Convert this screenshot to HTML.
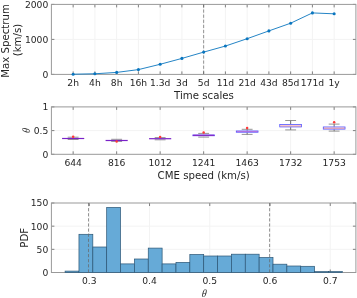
<!DOCTYPE html>
<html><head><meta charset="utf-8"><title>figure</title>
<style>html,body{margin:0;padding:0;background:#fff;overflow:hidden}svg{display:block}text{font-family:"DejaVu Sans","Liberation Sans",sans-serif;fill:#262626}.th{font-family:"Liberation Serif","DejaVu Serif",serif;font-style:italic}</style>
</head><body>
<svg width="357" height="298" viewBox="0 0 357 298">
<rect width="357" height="298" fill="#fff"/>
<line x1="73.15" y1="4.4" x2="73.15" y2="74.4" stroke="#f3f3f3" stroke-width="1" />
<line x1="94.9" y1="4.4" x2="94.9" y2="74.4" stroke="#f3f3f3" stroke-width="1" />
<line x1="116.65" y1="4.4" x2="116.65" y2="74.4" stroke="#f3f3f3" stroke-width="1" />
<line x1="138.4" y1="4.4" x2="138.4" y2="74.4" stroke="#f3f3f3" stroke-width="1" />
<line x1="160.15" y1="4.4" x2="160.15" y2="74.4" stroke="#f3f3f3" stroke-width="1" />
<line x1="181.9" y1="4.4" x2="181.9" y2="74.4" stroke="#f3f3f3" stroke-width="1" />
<line x1="203.65" y1="4.4" x2="203.65" y2="74.4" stroke="#f3f3f3" stroke-width="1" />
<line x1="225.4" y1="4.4" x2="225.4" y2="74.4" stroke="#f3f3f3" stroke-width="1" />
<line x1="247.15" y1="4.4" x2="247.15" y2="74.4" stroke="#f3f3f3" stroke-width="1" />
<line x1="268.9" y1="4.4" x2="268.9" y2="74.4" stroke="#f3f3f3" stroke-width="1" />
<line x1="290.65" y1="4.4" x2="290.65" y2="74.4" stroke="#f3f3f3" stroke-width="1" />
<line x1="312.4" y1="4.4" x2="312.4" y2="74.4" stroke="#f3f3f3" stroke-width="1" />
<line x1="334.15" y1="4.4" x2="334.15" y2="74.4" stroke="#f3f3f3" stroke-width="1" />
<line x1="51.4" y1="39.4" x2="355.9" y2="39.4" stroke="#f3f3f3" stroke-width="1" />
<line x1="73.15" y1="74.4" x2="73.15" y2="71.4" stroke="#808080" stroke-width="1" />
<line x1="73.15" y1="4.4" x2="73.15" y2="7.4" stroke="#808080" stroke-width="1" />
<line x1="94.9" y1="74.4" x2="94.9" y2="71.4" stroke="#808080" stroke-width="1" />
<line x1="94.9" y1="4.4" x2="94.9" y2="7.4" stroke="#808080" stroke-width="1" />
<line x1="116.65" y1="74.4" x2="116.65" y2="71.4" stroke="#808080" stroke-width="1" />
<line x1="116.65" y1="4.4" x2="116.65" y2="7.4" stroke="#808080" stroke-width="1" />
<line x1="138.4" y1="74.4" x2="138.4" y2="71.4" stroke="#808080" stroke-width="1" />
<line x1="138.4" y1="4.4" x2="138.4" y2="7.4" stroke="#808080" stroke-width="1" />
<line x1="160.15" y1="74.4" x2="160.15" y2="71.4" stroke="#808080" stroke-width="1" />
<line x1="160.15" y1="4.4" x2="160.15" y2="7.4" stroke="#808080" stroke-width="1" />
<line x1="181.9" y1="74.4" x2="181.9" y2="71.4" stroke="#808080" stroke-width="1" />
<line x1="181.9" y1="4.4" x2="181.9" y2="7.4" stroke="#808080" stroke-width="1" />
<line x1="203.65" y1="74.4" x2="203.65" y2="71.4" stroke="#808080" stroke-width="1" />
<line x1="203.65" y1="4.4" x2="203.65" y2="7.4" stroke="#808080" stroke-width="1" />
<line x1="225.4" y1="74.4" x2="225.4" y2="71.4" stroke="#808080" stroke-width="1" />
<line x1="225.4" y1="4.4" x2="225.4" y2="7.4" stroke="#808080" stroke-width="1" />
<line x1="247.15" y1="74.4" x2="247.15" y2="71.4" stroke="#808080" stroke-width="1" />
<line x1="247.15" y1="4.4" x2="247.15" y2="7.4" stroke="#808080" stroke-width="1" />
<line x1="268.9" y1="74.4" x2="268.9" y2="71.4" stroke="#808080" stroke-width="1" />
<line x1="268.9" y1="4.4" x2="268.9" y2="7.4" stroke="#808080" stroke-width="1" />
<line x1="290.65" y1="74.4" x2="290.65" y2="71.4" stroke="#808080" stroke-width="1" />
<line x1="290.65" y1="4.4" x2="290.65" y2="7.4" stroke="#808080" stroke-width="1" />
<line x1="312.4" y1="74.4" x2="312.4" y2="71.4" stroke="#808080" stroke-width="1" />
<line x1="312.4" y1="4.4" x2="312.4" y2="7.4" stroke="#808080" stroke-width="1" />
<line x1="334.15" y1="74.4" x2="334.15" y2="71.4" stroke="#808080" stroke-width="1" />
<line x1="334.15" y1="4.4" x2="334.15" y2="7.4" stroke="#808080" stroke-width="1" />
<line x1="51.4" y1="74.4" x2="54.4" y2="74.4" stroke="#808080" stroke-width="1" />
<line x1="355.9" y1="74.4" x2="352.9" y2="74.4" stroke="#808080" stroke-width="1" />
<line x1="51.4" y1="39.4" x2="54.4" y2="39.4" stroke="#808080" stroke-width="1" />
<line x1="355.9" y1="39.4" x2="352.9" y2="39.4" stroke="#808080" stroke-width="1" />
<line x1="51.4" y1="4.4" x2="54.4" y2="4.4" stroke="#808080" stroke-width="1" />
<line x1="355.9" y1="4.4" x2="352.9" y2="4.4" stroke="#808080" stroke-width="1" />
<rect x="51.4" y="4.4" width="304.5" height="70" fill="none" stroke="#999999" stroke-width="1"/>
<line x1="203.65" y1="4.4" x2="203.65" y2="74.4" stroke="#666" stroke-width="0.7" stroke-dasharray="3.2 1.9"/>
<polyline points="73.15,74.23 94.9,73.77 116.65,72.41 138.4,69.61 160.15,64.29 181.9,58.41 203.65,52.11 225.4,46.05 247.15,38.7 268.9,30.9 290.65,23.2 312.4,12.91 334.15,13.82" fill="none" stroke="#2585c6" stroke-width="1.0" stroke-linejoin="round"/>
<circle cx="73.15" cy="74.23" r="1.55" fill="#0a76bf"/>
<circle cx="94.9" cy="73.77" r="1.55" fill="#0a76bf"/>
<circle cx="116.65" cy="72.41" r="1.55" fill="#0a76bf"/>
<circle cx="138.4" cy="69.61" r="1.55" fill="#0a76bf"/>
<circle cx="160.15" cy="64.29" r="1.55" fill="#0a76bf"/>
<circle cx="181.9" cy="58.41" r="1.55" fill="#0a76bf"/>
<circle cx="203.65" cy="52.11" r="1.55" fill="#0a76bf"/>
<circle cx="225.4" cy="46.05" r="1.55" fill="#0a76bf"/>
<circle cx="247.15" cy="38.7" r="1.55" fill="#0a76bf"/>
<circle cx="268.9" cy="30.9" r="1.55" fill="#0a76bf"/>
<circle cx="290.65" cy="23.2" r="1.55" fill="#0a76bf"/>
<circle cx="312.4" cy="12.91" r="1.55" fill="#0a76bf"/>
<circle cx="334.15" cy="13.82" r="1.55" fill="#0a76bf"/>
<text x="73.15" y="86.35" font-size="9.2" text-anchor="middle" >2h</text>
<text x="94.9" y="86.35" font-size="9.2" text-anchor="middle" >4h</text>
<text x="116.65" y="86.35" font-size="9.2" text-anchor="middle" >8h</text>
<text x="138.4" y="86.35" font-size="9.2" text-anchor="middle" >16h</text>
<text x="160.15" y="86.35" font-size="9.2" text-anchor="middle" >1.3d</text>
<text x="181.9" y="86.35" font-size="9.2" text-anchor="middle" >3d</text>
<text x="203.65" y="86.35" font-size="9.2" text-anchor="middle" >5d</text>
<text x="225.4" y="86.35" font-size="9.2" text-anchor="middle" >11d</text>
<text x="247.15" y="86.35" font-size="9.2" text-anchor="middle" >21d</text>
<text x="268.9" y="86.35" font-size="9.2" text-anchor="middle" >43d</text>
<text x="290.65" y="86.35" font-size="9.2" text-anchor="middle" >85d</text>
<text x="312.4" y="86.35" font-size="9.2" text-anchor="middle" >171d</text>
<text x="334.15" y="86.35" font-size="9.2" text-anchor="middle" >1y</text>
<text x="48.3" y="77.75" font-size="9.2" text-anchor="end" >0</text>
<text x="48.3" y="42.75" font-size="9.2" text-anchor="end" >1000</text>
<text x="48.3" y="7.75" font-size="9.2" text-anchor="end" >2000</text>
<text x="203.95" y="99" font-size="10.2" text-anchor="middle" >Time scales</text>
<text transform="translate(8.8,41.0) rotate(-90)" font-size="10.2" text-anchor="middle">Max Spectrum</text>
<text transform="translate(20.6,40.0) rotate(-90)" font-size="10.2" text-anchor="middle">(km/s)</text>
<line x1="73.15" y1="106.9" x2="73.15" y2="154.3" stroke="#f3f3f3" stroke-width="1" />
<line x1="116.65" y1="106.9" x2="116.65" y2="154.3" stroke="#f3f3f3" stroke-width="1" />
<line x1="160.15" y1="106.9" x2="160.15" y2="154.3" stroke="#f3f3f3" stroke-width="1" />
<line x1="203.65" y1="106.9" x2="203.65" y2="154.3" stroke="#f3f3f3" stroke-width="1" />
<line x1="247.15" y1="106.9" x2="247.15" y2="154.3" stroke="#f3f3f3" stroke-width="1" />
<line x1="290.65" y1="106.9" x2="290.65" y2="154.3" stroke="#f3f3f3" stroke-width="1" />
<line x1="334.15" y1="106.9" x2="334.15" y2="154.3" stroke="#f3f3f3" stroke-width="1" />
<line x1="51.4" y1="130.6" x2="355.9" y2="130.6" stroke="#f3f3f3" stroke-width="1" />
<line x1="73.15" y1="154.3" x2="73.15" y2="151.3" stroke="#808080" stroke-width="1" />
<line x1="73.15" y1="106.9" x2="73.15" y2="109.9" stroke="#808080" stroke-width="1" />
<line x1="116.65" y1="154.3" x2="116.65" y2="151.3" stroke="#808080" stroke-width="1" />
<line x1="116.65" y1="106.9" x2="116.65" y2="109.9" stroke="#808080" stroke-width="1" />
<line x1="160.15" y1="154.3" x2="160.15" y2="151.3" stroke="#808080" stroke-width="1" />
<line x1="160.15" y1="106.9" x2="160.15" y2="109.9" stroke="#808080" stroke-width="1" />
<line x1="203.65" y1="154.3" x2="203.65" y2="151.3" stroke="#808080" stroke-width="1" />
<line x1="203.65" y1="106.9" x2="203.65" y2="109.9" stroke="#808080" stroke-width="1" />
<line x1="247.15" y1="154.3" x2="247.15" y2="151.3" stroke="#808080" stroke-width="1" />
<line x1="247.15" y1="106.9" x2="247.15" y2="109.9" stroke="#808080" stroke-width="1" />
<line x1="290.65" y1="154.3" x2="290.65" y2="151.3" stroke="#808080" stroke-width="1" />
<line x1="290.65" y1="106.9" x2="290.65" y2="109.9" stroke="#808080" stroke-width="1" />
<line x1="334.15" y1="154.3" x2="334.15" y2="151.3" stroke="#808080" stroke-width="1" />
<line x1="334.15" y1="106.9" x2="334.15" y2="109.9" stroke="#808080" stroke-width="1" />
<line x1="51.4" y1="154.3" x2="54.4" y2="154.3" stroke="#808080" stroke-width="1" />
<line x1="355.9" y1="154.3" x2="352.9" y2="154.3" stroke="#808080" stroke-width="1" />
<line x1="51.4" y1="130.6" x2="54.4" y2="130.6" stroke="#808080" stroke-width="1" />
<line x1="355.9" y1="130.6" x2="352.9" y2="130.6" stroke="#808080" stroke-width="1" />
<line x1="51.4" y1="106.9" x2="54.4" y2="106.9" stroke="#808080" stroke-width="1" />
<line x1="355.9" y1="106.9" x2="352.9" y2="106.9" stroke="#808080" stroke-width="1" />
<rect x="51.4" y="106.9" width="304.5" height="47.4" fill="none" stroke="#999999" stroke-width="1"/>
<line x1="67.71" y1="137.2" x2="78.59" y2="137.2" stroke="#7a7a7a" stroke-width="0.8" />
<line x1="67.71" y1="139.5" x2="78.59" y2="139.5" stroke="#7a7a7a" stroke-width="0.8" />
<line x1="62.08" y1="138.5" x2="84.23" y2="138.5" stroke="#7a22c8" stroke-width="1.1999999999999886" />
<circle cx="73.15" cy="136.7" r="1.25" fill="#ff3838"/>
<line x1="111.21" y1="139.3" x2="122.09" y2="139.3" stroke="#7a7a7a" stroke-width="0.8" />
<line x1="111.21" y1="141.4" x2="122.09" y2="141.4" stroke="#7a7a7a" stroke-width="0.8" />
<line x1="105.58" y1="140.5" x2="127.73" y2="140.5" stroke="#7a22c8" stroke-width="1.1999999999999886" />
<circle cx="116.65" cy="141.5" r="1.25" fill="#ff3838"/>
<line x1="154.71" y1="137.6" x2="165.59" y2="137.6" stroke="#7a7a7a" stroke-width="0.8" />
<line x1="154.71" y1="139.8" x2="165.59" y2="139.8" stroke="#7a7a7a" stroke-width="0.8" />
<line x1="149.08" y1="138.7" x2="171.22" y2="138.7" stroke="#7a22c8" stroke-width="1.200000000000017" />
<circle cx="160.15" cy="137" r="1.25" fill="#ff3838"/>
<line x1="198.21" y1="133.4" x2="209.09" y2="133.4" stroke="#7a7a7a" stroke-width="0.8" />
<line x1="198.21" y1="137.1" x2="209.09" y2="137.1" stroke="#7a7a7a" stroke-width="0.8" />
<line x1="192.47" y1="135.35" x2="214.83" y2="135.35" stroke="#5a3cf0" stroke-width="1.5999999999999943" />
<line x1="193.28" y1="135.35" x2="214.03" y2="135.35" stroke="#8a2cc4" stroke-width="1.0999999999999943" />
<circle cx="203.65" cy="132.6" r="1.25" fill="#ff3838"/>
<line x1="247.15" y1="129.3" x2="247.15" y2="130.6" stroke="#4a4a4a" stroke-width="0.8" />
<line x1="247.15" y1="132.6" x2="247.15" y2="134.4" stroke="#4a4a4a" stroke-width="0.8" />
<line x1="241.71" y1="129.3" x2="252.59" y2="129.3" stroke="#7a7a7a" stroke-width="0.8" />
<line x1="241.71" y1="134.4" x2="252.59" y2="134.4" stroke="#7a7a7a" stroke-width="0.8" />
<rect x="236.28" y="130.97" width="21.75" height="1.25" fill="none" stroke="#4646ff" stroke-width="0.75"/>
<line x1="236.68" y1="131.6" x2="257.62" y2="131.6" stroke="#c04ac8" stroke-width="0.6" />
<circle cx="247.15" cy="128" r="1.25" fill="#ff3838"/>
<line x1="290.65" y1="120.5" x2="290.65" y2="124.1" stroke="#4a4a4a" stroke-width="0.8" />
<line x1="290.65" y1="127.3" x2="290.65" y2="129.9" stroke="#4a4a4a" stroke-width="0.8" />
<line x1="285.21" y1="120.5" x2="296.09" y2="120.5" stroke="#7a7a7a" stroke-width="0.8" />
<line x1="285.21" y1="129.9" x2="296.09" y2="129.9" stroke="#7a7a7a" stroke-width="0.8" />
<rect x="279.77" y="124.47" width="21.75" height="2.45" fill="none" stroke="#4646ff" stroke-width="0.75"/>
<line x1="280.17" y1="125.9" x2="301.12" y2="125.9" stroke="#f06464" stroke-width="0.6" />
<line x1="334.15" y1="124.1" x2="334.15" y2="126.6" stroke="#4a4a4a" stroke-width="0.8" />
<line x1="334.15" y1="129.5" x2="334.15" y2="131.1" stroke="#4a4a4a" stroke-width="0.8" />
<line x1="328.71" y1="124.1" x2="339.59" y2="124.1" stroke="#7a7a7a" stroke-width="0.8" />
<line x1="328.71" y1="131.1" x2="339.59" y2="131.1" stroke="#7a7a7a" stroke-width="0.8" />
<rect x="323.27" y="126.97" width="21.75" height="2.15" fill="none" stroke="#4646ff" stroke-width="0.75"/>
<line x1="323.67" y1="128.2" x2="344.62" y2="128.2" stroke="#f06464" stroke-width="0.6" />
<circle cx="334.15" cy="122.3" r="1.25" fill="#ff3838"/>
<text x="73.15" y="166.25" font-size="9.2" text-anchor="middle" >644</text>
<text x="116.65" y="166.25" font-size="9.2" text-anchor="middle" >816</text>
<text x="160.15" y="166.25" font-size="9.2" text-anchor="middle" >1012</text>
<text x="203.65" y="166.25" font-size="9.2" text-anchor="middle" >1241</text>
<text x="247.15" y="166.25" font-size="9.2" text-anchor="middle" >1463</text>
<text x="290.65" y="166.25" font-size="9.2" text-anchor="middle" >1732</text>
<text x="334.15" y="166.25" font-size="9.2" text-anchor="middle" >1753</text>
<text x="48.3" y="157.65" font-size="9.2" text-anchor="end" >0</text>
<text x="48.3" y="133.95" font-size="9.2" text-anchor="end" >0.5</text>
<text x="48.3" y="110.25" font-size="9.2" text-anchor="end" >1</text>
<text x="203.65" y="179.1" font-size="10.2" text-anchor="middle" >CME speed (km/s)</text>
<text class="th" transform="translate(30.1,130.8) rotate(-90) skewX(-6) scale(0.88,1)" font-size="11.2" text-anchor="middle">θ</text>
<line x1="89.3" y1="203" x2="89.3" y2="272.5" stroke="#f3f3f3" stroke-width="1" />
<line x1="149.54" y1="203" x2="149.54" y2="272.5" stroke="#f3f3f3" stroke-width="1" />
<line x1="209.78" y1="203" x2="209.78" y2="272.5" stroke="#f3f3f3" stroke-width="1" />
<line x1="270.02" y1="203" x2="270.02" y2="272.5" stroke="#f3f3f3" stroke-width="1" />
<line x1="330.26" y1="203" x2="330.26" y2="272.5" stroke="#f3f3f3" stroke-width="1" />
<line x1="51.4" y1="249.33" x2="355.9" y2="249.33" stroke="#f3f3f3" stroke-width="1" />
<line x1="51.4" y1="226.17" x2="355.9" y2="226.17" stroke="#f3f3f3" stroke-width="1" />
<line x1="89.3" y1="272.5" x2="89.3" y2="269.5" stroke="#808080" stroke-width="1" />
<line x1="89.3" y1="203" x2="89.3" y2="206" stroke="#808080" stroke-width="1" />
<line x1="149.54" y1="272.5" x2="149.54" y2="269.5" stroke="#808080" stroke-width="1" />
<line x1="149.54" y1="203" x2="149.54" y2="206" stroke="#808080" stroke-width="1" />
<line x1="209.78" y1="272.5" x2="209.78" y2="269.5" stroke="#808080" stroke-width="1" />
<line x1="209.78" y1="203" x2="209.78" y2="206" stroke="#808080" stroke-width="1" />
<line x1="270.02" y1="272.5" x2="270.02" y2="269.5" stroke="#808080" stroke-width="1" />
<line x1="270.02" y1="203" x2="270.02" y2="206" stroke="#808080" stroke-width="1" />
<line x1="330.26" y1="272.5" x2="330.26" y2="269.5" stroke="#808080" stroke-width="1" />
<line x1="330.26" y1="203" x2="330.26" y2="206" stroke="#808080" stroke-width="1" />
<line x1="51.4" y1="272.5" x2="54.4" y2="272.5" stroke="#808080" stroke-width="1" />
<line x1="355.9" y1="272.5" x2="352.9" y2="272.5" stroke="#808080" stroke-width="1" />
<line x1="51.4" y1="249.33" x2="54.4" y2="249.33" stroke="#808080" stroke-width="1" />
<line x1="355.9" y1="249.33" x2="352.9" y2="249.33" stroke="#808080" stroke-width="1" />
<line x1="51.4" y1="226.17" x2="54.4" y2="226.17" stroke="#808080" stroke-width="1" />
<line x1="355.9" y1="226.17" x2="352.9" y2="226.17" stroke="#808080" stroke-width="1" />
<line x1="51.4" y1="203" x2="54.4" y2="203" stroke="#808080" stroke-width="1" />
<line x1="355.9" y1="203" x2="352.9" y2="203" stroke="#808080" stroke-width="1" />
<rect x="51.4" y="203" width="304.5" height="69.5" fill="none" stroke="#999999" stroke-width="1"/>
<rect x="65.1" y="271.1" width="13.86" height="1.4" fill="#66aad7" stroke="#2b5574" stroke-width="0.7"/>
<rect x="78.96" y="234.3" width="13.86" height="38.2" fill="#66aad7" stroke="#2b5574" stroke-width="0.7"/>
<rect x="92.82" y="247" width="13.86" height="25.5" fill="#66aad7" stroke="#2b5574" stroke-width="0.7"/>
<rect x="106.68" y="207.4" width="13.86" height="65.1" fill="#66aad7" stroke="#2b5574" stroke-width="0.7"/>
<rect x="120.54" y="263.9" width="13.86" height="8.6" fill="#66aad7" stroke="#2b5574" stroke-width="0.7"/>
<rect x="134.4" y="259" width="13.86" height="13.5" fill="#66aad7" stroke="#2b5574" stroke-width="0.7"/>
<rect x="148.26" y="248.1" width="13.86" height="24.4" fill="#66aad7" stroke="#2b5574" stroke-width="0.7"/>
<rect x="162.12" y="263.9" width="13.86" height="8.6" fill="#66aad7" stroke="#2b5574" stroke-width="0.7"/>
<rect x="175.98" y="262.4" width="13.86" height="10.1" fill="#66aad7" stroke="#2b5574" stroke-width="0.7"/>
<rect x="189.84" y="254.5" width="13.86" height="18" fill="#66aad7" stroke="#2b5574" stroke-width="0.7"/>
<rect x="203.7" y="256" width="13.86" height="16.5" fill="#66aad7" stroke="#2b5574" stroke-width="0.7"/>
<rect x="217.56" y="256" width="13.86" height="16.5" fill="#66aad7" stroke="#2b5574" stroke-width="0.7"/>
<rect x="231.42" y="254.2" width="13.86" height="18.3" fill="#66aad7" stroke="#2b5574" stroke-width="0.7"/>
<rect x="245.28" y="254.2" width="13.86" height="18.3" fill="#66aad7" stroke="#2b5574" stroke-width="0.7"/>
<rect x="259.14" y="257.5" width="13.86" height="15" fill="#66aad7" stroke="#2b5574" stroke-width="0.7"/>
<rect x="273" y="264.2" width="13.86" height="8.3" fill="#66aad7" stroke="#2b5574" stroke-width="0.7"/>
<rect x="286.86" y="266" width="13.86" height="6.5" fill="#66aad7" stroke="#2b5574" stroke-width="0.7"/>
<rect x="300.72" y="266.3" width="13.86" height="6.2" fill="#66aad7" stroke="#2b5574" stroke-width="0.7"/>
<rect x="314.58" y="271.6" width="13.86" height="0.9" fill="#66aad7" stroke="#2b5574" stroke-width="0.7"/>
<rect x="328.44" y="271.6" width="13.86" height="0.9" fill="#66aad7" stroke="#2b5574" stroke-width="0.7"/>
<line x1="88.5" y1="203" x2="88.5" y2="272.5" stroke="#666" stroke-width="0.7" stroke-dasharray="3.2 1.9"/>
<line x1="269.6" y1="203" x2="269.6" y2="272.5" stroke="#666" stroke-width="0.7" stroke-dasharray="3.2 1.9"/>
<text x="89.3" y="284.45" font-size="9.2" text-anchor="middle" >0.3</text>
<text x="149.54" y="284.45" font-size="9.2" text-anchor="middle" >0.4</text>
<text x="209.78" y="284.45" font-size="9.2" text-anchor="middle" >0.5</text>
<text x="270.02" y="284.45" font-size="9.2" text-anchor="middle" >0.6</text>
<text x="330.26" y="284.45" font-size="9.2" text-anchor="middle" >0.7</text>
<text x="48.3" y="275.85" font-size="9.2" text-anchor="end" >0</text>
<text x="48.3" y="252.68" font-size="9.2" text-anchor="end" >50</text>
<text x="48.3" y="229.52" font-size="9.2" text-anchor="end" >100</text>
<text x="48.3" y="206.35" font-size="9.2" text-anchor="end" >150</text>
<text transform="translate(27.5,237.8) rotate(-90)" font-size="10.2" text-anchor="middle">PDF</text>
<text class="th" transform="translate(203.9,296.9) skewX(-6) scale(0.88,1)" font-size="11.2" text-anchor="middle">θ</text>
</svg></body></html>
